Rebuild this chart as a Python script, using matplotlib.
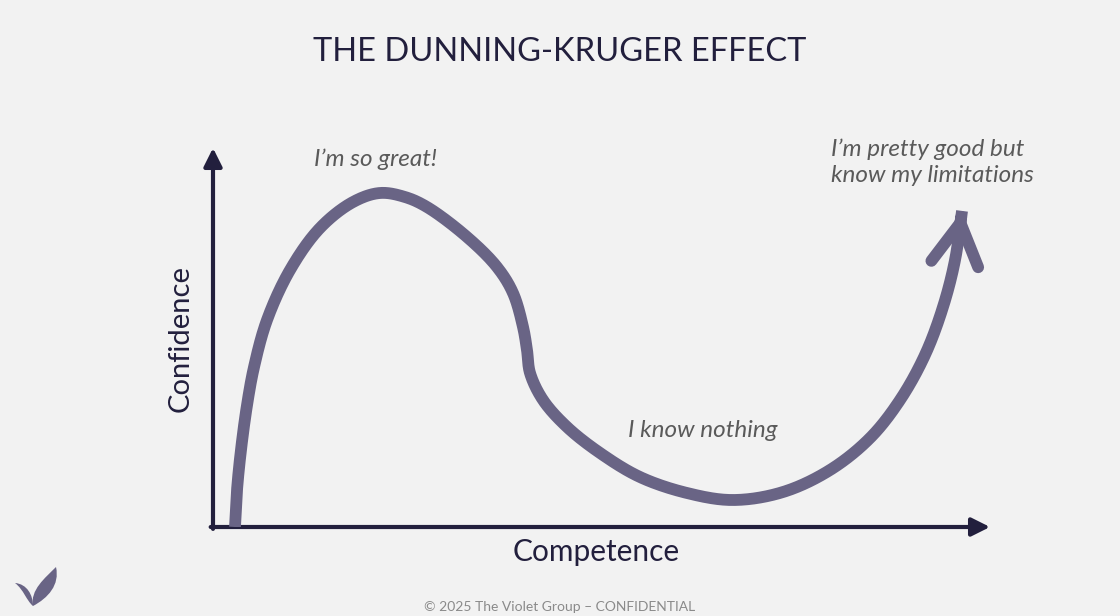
import matplotlib
matplotlib.use('Agg')
import matplotlib.pyplot as plt
import numpy as np
from matplotlib.path import Path
from matplotlib.patches import PathPatch

plt.rcParams['font.family'] = ['Lato', 'DejaVu Sans']

# curve: competence (0-100) vs confidence (0-100)
competence = [2.83, 3.09, 3.60, 4.38, 5.28, 6.95, 9.91, 13.77,
              18.02, 21.49, 24.71, 27.54, 32.69, 36.55, 38.61, 39.90, 40.41, 40.80, 42.47,
              45.56, 49.81, 54.95, 61.00, 66.92, 73.36, 79.41, 84.56, 88.42, 91.63, 93.95,
              95.50, 96.40]
confidence = [0.0, 9.76, 20.32, 32.19, 42.22, 54.62, 67.81, 78.89,
              85.75, 88.13, 87.07, 84.43, 76.52, 68.60, 61.74, 52.77, 46.70, 40.63, 33.51,
              26.39, 19.53, 13.19, 8.97, 7.12, 9.23, 15.04, 23.48, 33.51, 45.38, 58.05,
              70.45, 83.4]

labels = ["I\u2019m so great!", "I know nothing", "I\u2019m pretty good but\nknow my limitations"]
label_x = [13.0, 53.4, 79.5]
label_y = [97.0, 25.5, 96.3]

title = "THE DUNNING-KRUGER EFFECT"
xlabel_txt = "Competence"
ylabel_txt = "Confidence"
footer = "\u00a9 2025 The Violet Group \u2013 CONFIDENTIAL"

bg = '#f2f2f2'
navy = '#221f3d'
curve_col = '#696485'
grey = '#5a5a5a'

W, H = 1120, 616
x0, y0, x1, y1 = 213, 527, 990, 148
ASPECT = (x1 - x0) / (y0 - y1)  # x units are this much wider on screen


def smooth(xs, ys, n=24):
    # centripetal Catmull-Rom through the read points, just for a smooth stroke
    p = np.column_stack([np.asarray(xs) * ASPECT, ys])
    p = np.vstack([2 * p[0] - p[1], p, 2 * p[-1] - p[-2]])
    out = []
    for i in range(1, len(p) - 2):
        P0, P1, P2, P3 = p[i - 1], p[i], p[i + 1], p[i + 2]
        t0 = 0.0
        t1 = t0 + np.linalg.norm(P1 - P0) ** 0.5
        t2 = t1 + np.linalg.norm(P2 - P1) ** 0.5
        t3 = t2 + np.linalg.norm(P3 - P2) ** 0.5
        t = np.linspace(t1, t2, n, endpoint=False)[:, None]
        A1 = (t1 - t) / (t1 - t0) * P0 + (t - t0) / (t1 - t0) * P1
        A2 = (t2 - t) / (t2 - t1) * P1 + (t - t1) / (t2 - t1) * P2
        A3 = (t3 - t) / (t3 - t2) * P2 + (t - t2) / (t3 - t2) * P3
        B1 = (t2 - t) / (t2 - t0) * A1 + (t - t0) / (t2 - t0) * A2
        B2 = (t3 - t) / (t3 - t1) * A2 + (t - t1) / (t3 - t1) * A3
        out.append((t2 - t) / (t2 - t1) * B1 + (t - t1) / (t2 - t1) * B2)
    out.append(p[-2][None, :])
    out = np.vstack(out)
    return out[:, 0] / ASPECT, out[:, 1]


fig = plt.figure(figsize=(W / 100, H / 100), dpi=100, facecolor=bg)

# main axes: origin at pixel (213, 527), top at 148, right at 990
ax = fig.add_axes([x0 / W, 1 - y0 / H, (x1 - x0) / W, (y0 - y1) / H])
ax.set_xlim(0, 100)
ax.set_ylim(0, 100)
ax.axis('off')
ax.patch.set_alpha(0)

# axes arrows
ax.annotate('', xy=(0, 100), xytext=(0, -0.5), xycoords='data',
            arrowprops=dict(arrowstyle='-|>,head_length=1.1,head_width=0.55',
                            lw=3, color=navy, shrinkA=0, shrinkB=0), annotation_clip=False)
ax.annotate('', xy=(100, 0), xytext=(-0.3, 0), xycoords='data',
            arrowprops=dict(arrowstyle='-|>,head_length=1.1,head_width=0.55',
                            lw=3, color=navy, shrinkA=0, shrinkB=0), annotation_clip=False)

# curve
sx, sy = smooth(competence, confidence)
ax.plot(sx, sy, color=curve_col, lw=8.5, solid_capstyle='butt',
        solid_joinstyle='round', zorder=3)
ax.annotate('', xy=(competence[-1], confidence[-1]), xytext=(sx[-4], sy[-4]),
            arrowprops=dict(arrowstyle='->,head_length=3.0,head_width=1.7', lw=8.5,
                            color=curve_col, shrinkA=0, shrinkB=0, capstyle='round',
                            joinstyle='round'), annotation_clip=False, zorder=3)

for t, lx, ly in zip(labels, label_x, label_y):
    ax.text(lx, ly, t, fontsize=17.5, style='italic', color=grey, ha='left', va='center',
            linespacing=1.3)

fig.text(0.5, 1 - 52 / H, title, ha='center', va='center', fontsize=23.5, color=navy)
fig.text(596 / W, 1 - 552 / H, xlabel_txt, ha='center', va='center', fontsize=21.5, color=navy)
fig.text(181 / W, 1 - 338 / H, ylabel_txt, ha='center', va='center', fontsize=21, color=navy,
         rotation=90)
fig.text(0.5, 1 - 607 / H, footer, ha='center', va='center', fontsize=10, color='#8a8a8a')

# logo (two leaves), drawn in pixel space
deco = fig.add_axes([0, 0, 1, 1])
deco.set_xlim(0, W)
deco.set_ylim(H, 0)
deco.axis('off')
deco.patch.set_alpha(0)
left_leaf = Path([(15, 583), (27, 584), (33, 595), (33, 606), (26, 600), (24, 590), (15, 583)],
                 [Path.MOVETO, Path.CURVE4, Path.CURVE4, Path.CURVE4, Path.CURVE4, Path.CURVE4,
                  Path.CURVE4])
right_leaf = Path([(33, 606), (30, 590), (45, 578), (56, 567), (60, 585), (48, 598), (33, 606)],
                  [Path.MOVETO, Path.CURVE4, Path.CURVE4, Path.CURVE4, Path.CURVE4, Path.CURVE4,
                   Path.CURVE4])
for p in (left_leaf, right_leaf):
    deco.add_patch(PathPatch(p, facecolor=curve_col, edgecolor='none'))

fig.savefig('out.png', dpi=100, facecolor=bg)
